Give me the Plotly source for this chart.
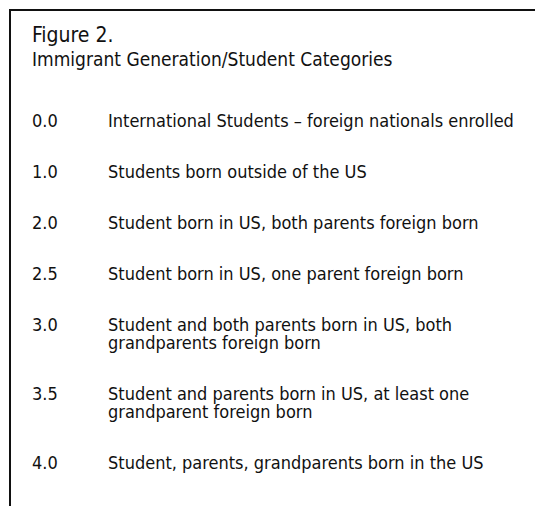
import plotly.graph_objects as go

# ---- content ----
fig_label = "Figure 2."
fig_title = "Immigrant Generation/Student Categories"
codes = ["0.0", "1.0", "2.0", "2.5", "3.0", "3.5", "4.0"]
descriptions = [
    ["International Students \u2013 foreign nationals enrolled"],
    ["Students born outside of the US"],
    ["Student born in US, both parents foreign born"],
    ["Student born in US, one parent foreign born"],
    ["Student and both parents born in US, both", "grandparents foreign born"],
    ["Student and parents born in US, at least one", "grandparent foreign born"],
    ["Student, parents, grandparents born in the US"],
]

# ---- layout parameters ----
W, H = 535, 506
FONT = "Liberation Sans Narrow, Arial Narrow, DejaVu Sans Condensed, sans-serif"
COLOR = "#111111"
x_code, x_desc = 29.5, 106
y_first, row_gap, wrap_gap = 120, 51, 18

fig = go.Figure()
annotations = []

def add_text(x, y, text, size):
    annotations.append(dict(x=x, y=y, xref="x", yref="y", text=text, showarrow=False,
                            xanchor="left", yanchor="middle",
                            font=dict(family=FONT, size=size, color=COLOR)))

add_text(x_code, 34.5, fig_label, 21)
add_text(x_code, 58.5, fig_title, 19)

y = y_first
for code, lines in zip(codes, descriptions):
    add_text(x_code, y, code, 18)
    for i, line in enumerate(lines):
        add_text(x_desc, y + i * wrap_gap, line, 18)
    y += row_gap + (len(lines) - 1) * wrap_gap

shapes = [
    dict(type="line", xref="x", yref="y", x0=9, x1=W, y0=10, y1=10,
         line=dict(color="#111111", width=2)),
    dict(type="line", xref="x", yref="y", x0=10, x1=10, y0=9, y1=H,
         line=dict(color="#111111", width=2)),
]

fig.update_layout(
    width=W, height=H,
    margin=dict(l=0, r=0, t=0, b=0),
    paper_bgcolor="white", plot_bgcolor="white",
    xaxis=dict(range=[0, W], visible=False, fixedrange=True),
    yaxis=dict(range=[H, 0], visible=False, fixedrange=True),
    annotations=annotations,
    shapes=shapes,
    showlegend=False,
)

fig.write_html("out.html", config={"displayModeBar": False},
               post_script="document.body.style.margin='0';document.body.style.overflow='hidden';")
